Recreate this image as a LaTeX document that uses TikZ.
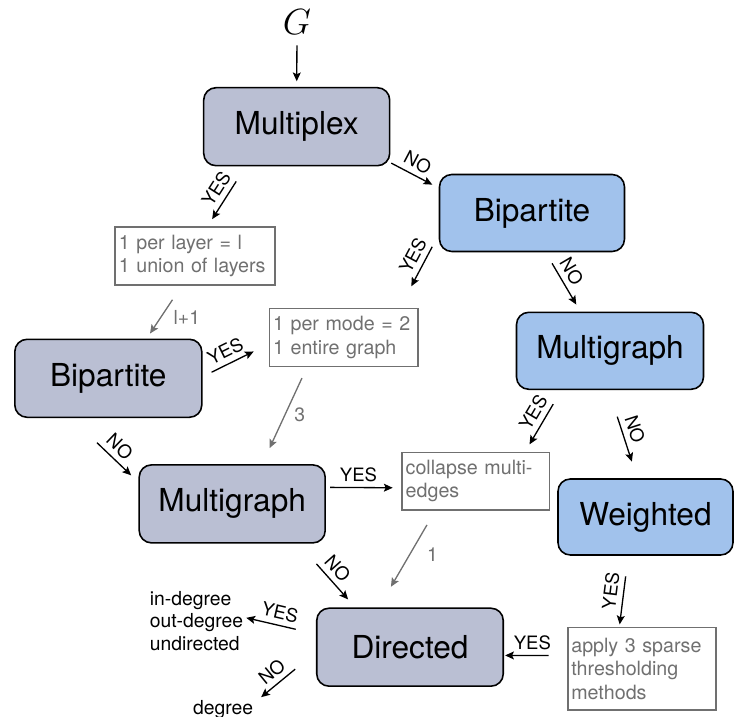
\documentclass[tikz,border=0pt]{standalone}
\usepackage{fontspec}
\setmainfont{TeX Gyre Heros}
\usetikzlibrary{arrows.meta}
\definecolor{graybox}{RGB}{186,191,211}
\definecolor{bluebox}{RGB}{161,194,236}
\definecolor{notegray}{RGB}{112,112,112}

\begin{document}
\begin{tikzpicture}[
  bignode/.style={rectangle, rounded corners=7pt, draw=black, line width=0.9pt, minimum width=3.72cm, minimum height=1.56cm, inner sep=0pt, font=\fontsize{18}{21}\selectfont},
  graynode/.style={bignode, fill=graybox},
  bluenode/.style={bignode, fill=bluebox},
  notenode/.style={rectangle, draw=notegray, line width=1pt, text=notegray, align=left, inner xsep=2pt, inner ysep=0pt, font=\fontsize{11.2}{13.2}\selectfont},
  outnode/.style={align=left, inner sep=1pt, font=\fontsize{11}{13}\selectfont},
  arr/.style={-{Stealth[length=5pt,width=4.5pt,inset=1pt]}, line width=0.75pt},
  grayarr/.style={arr, draw=notegray},
  answer/.style={sloped, above=2pt, inner sep=1pt, font=\fontsize{10.5}{12}\selectfont},
  count/.style={inner sep=1pt, text=notegray, font=\fontsize{11}{13}\selectfont}]
\useasboundingbox (0,0) rectangle (14.68,14.34);
% Nodes
\node[inner sep=0pt, font=\fontsize{21}{24}\selectfont] (G) at (5.94, 13.89) {$G$};
\node[graynode] (mplex) at (5.934, 11.806) {Multiplex};
\node[bluenode, minimum width=3.70cm, minimum height=1.54cm] (bipA) at (10.64, 10.08) {Bipartite};
\node[notenode, text width=86.7pt, minimum height=1.16cm] (lay) at (3.90, 9.22) {1 per layer = l\\1 union of layers};
\node[notenode, text width=80.5pt, minimum height=1.16cm] (mode) at (6.876, 7.59) {1 per mode = 2\\1 entire graph};
\node[graynode, minimum width=3.74cm] (bipB) at (2.166, 6.774) {Bipartite};
\node[bluenode, minimum width=3.74cm, minimum height=1.54cm] (mgA) at (12.20, 7.324) {Multigraph};
\node[graynode] (mgB) at (4.644, 4.262) {Multigraph};
\node[notenode, text width=79.9pt, minimum height=1.15cm] (coll) at (9.518, 4.714) {collapse multi-\\edges};
\node[bluenode, minimum width=3.50cm, minimum height=1.52cm] (wgt) at (12.91, 4.00) {Weighted};
\node[graynode, minimum width=3.73cm] (dir) at (8.20, 1.396) {Directed};
\node[notenode, text width=80.2pt, minimum height=1.65cm] (app) at (12.836, 0.964) {apply 3 sparse\\thresholding\\methods};
\node[outnode] (deg3) at (3.93, 1.92) {in-degree\\out-degree\\undirected};
\node[outnode] (deg1) at (4.46, 0.15) {degree};
% Arrows
\draw[arr, shorten <=5.7pt, shorten >=3.2pt] (G.south) -- (mplex.north);
\draw[arr, shorten <=0.5pt, shorten >=4.1pt] (mplex.-21) -- node[answer, pos=.44] {NO} (bipA.165);
\draw[arr, shorten <=10.1pt, shorten >=4.7pt] (mplex.218) -- node[answer, pos=.49] {YES} (lay.67);
\draw[arr, shorten <=7.9pt, shorten >=13.7pt] (bipA.193) -- node[answer, pos=.37] {YES} (mode.28);
\draw[arr, shorten <=7.3pt, shorten >=4.6pt] (bipA.-71) -- node[answer, pos=.43] {NO} (mgA.127);
\draw[grayarr, shorten <=9.5pt, shorten >=3.4pt] (lay.246) -- node[count, pos=.6, right=6pt] {l+1} (bipB.46);
\draw[arr, shorten <=5.7pt, shorten >=9.5pt] (bipB.1) -- node[answer, pos=.43] {YES} (mode.185);
\draw[grayarr, shorten <=6.7pt, shorten >=10pt] (mode.219) -- node[count, pos=.49, right=4pt] {3} (mgB.53);
\draw[arr, shorten <=20.3pt, shorten >=5.7pt] (bipB.227) -- node[answer, pos=.59] {NO} (mgB.167);
\draw[arr, shorten <=9.3pt, shorten >=4.8pt] (mgA.219) -- node[answer, pos=.47] {YES} (coll.31);
\draw[arr, shorten <=15.9pt, shorten >=9.9pt] (mgA.268) -- node[answer, pos=.49] {NO} (wgt.102);
\draw[arr, shorten <=2.4pt, shorten >=4.9pt] (mgB.10) -- node[answer, pos=.43] {YES} (coll.185);
\draw[grayarr, shorten <=9.2pt, shorten >=13.6pt] (coll.216) -- node[count, pos=.45, right=8.5pt] {1} (dir.128);
\draw[arr, shorten <=15.4pt, shorten >=6.1pt] (mgB.-31) -- node[answer, pos=.52] {NO} (dir.144.5);
\draw[arr, shorten <=11.8pt, shorten >=1.3pt] (wgt.246) -- node[answer, pos=.52] {YES} (app.118);
\draw[arr, shorten <=10.4pt, shorten >=0.6pt] (app.170) -- node[answer, pos=.55] {YES} (dir.-5);
\draw[arr, shorten <=11.8pt, shorten >=0.6pt] (dir.172) -- node[answer, pos=.55] {YES} (deg3.4);
\draw[arr, shorten <=15.3pt, shorten >=4.4pt] (dir.183) -- node[answer, pos=.59] {NO} (deg1.13);
\end{tikzpicture}
\end{document}
